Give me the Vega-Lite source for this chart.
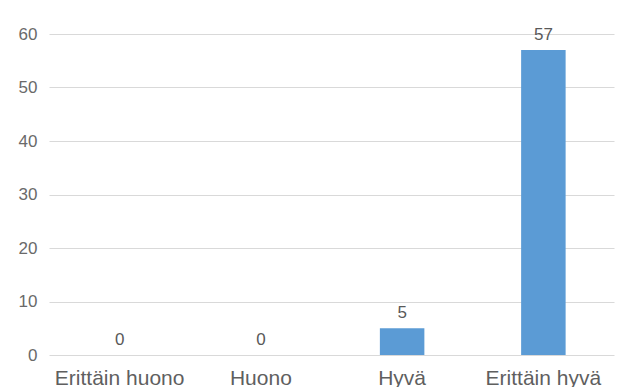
{
  "$schema": "https://vega.github.io/schema/vega-lite/v6.json",
  "width": 565,
  "height": 321,
  "autosize": {"type": "none"},
  "padding": {"left": 49, "top": 34, "right": 12, "bottom": 32},
  "background": "white",
  "config": {
    "view": {"stroke": null},
    "font": "Liberation Sans"
  },
  "data": {
    "values": [
      {"kategoria": "Erittäin huono", "maara": 0},
      {"kategoria": "Huono", "maara": 0},
      {"kategoria": "Hyvä", "maara": 5},
      {"kategoria": "Erittäin hyvä", "maara": 57}
    ]
  },
  "encoding": {
    "x": {
      "field": "kategoria",
      "type": "nominal",
      "sort": null,
      "scale": {"paddingInner": 0.685, "paddingOuter": 0.3425},
      "axis": {
        "title": null,
        "labelAngle": 0,
        "labelFontSize": 21,
        "labelColor": "#5f5f5f",
        "labelPadding": 12,
        "ticks": false,
        "domain": false,
        "grid": false
      }
    },
    "y": {
      "field": "maara",
      "type": "quantitative",
      "scale": {"domain": [0, 60], "nice": false},
      "axis": {
        "title": null,
        "values": [0, 10, 20, 30, 40, 50, 60],
        "labelFontSize": 17,
        "labelColor": "#6a6a6a",
        "labelPadding": 12,
        "ticks": false,
        "domain": false,
        "grid": true,
        "gridColor": "#d9d9d9",
        "gridWidth": 1
      }
    }
  },
  "layer": [
    {"mark": {"type": "bar", "color": "#5b9bd5"}},
    {
      "mark": {"type": "text", "baseline": "bottom", "dy": -6, "fontSize": 17, "color": "#595959"},
      "encoding": {"text": {"field": "maara", "type": "quantitative"}}
    }
  ]
}
